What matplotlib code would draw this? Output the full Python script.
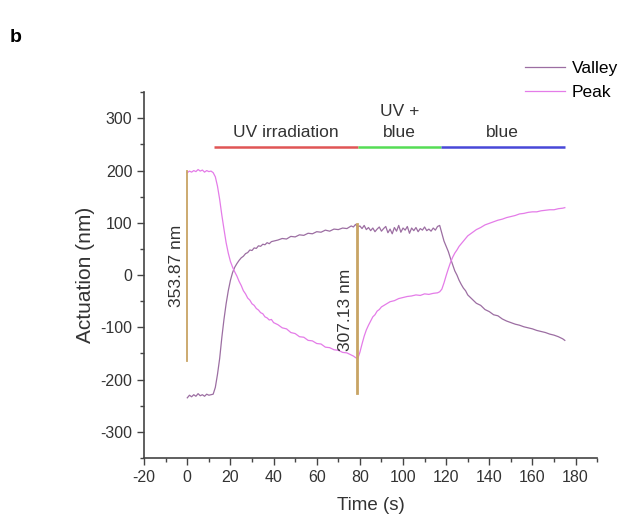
import matplotlib
matplotlib.use('Agg')
import matplotlib.pyplot as plt
from matplotlib.ticker import MultipleLocator

plt.rcParams['font.family'] = ['Liberation Sans', 'DejaVu Sans']
plt.rcParams['axes.unicode_minus'] = False

# Peak series
peak_t = [0, 1, 2, 3, 4, 5, 6, 7, 8, 9, 10, 11, 12, 13, 14, 15, 16, 17, 18, 19,
          20, 21, 22, 23, 24, 25, 26, 27, 28, 29, 30, 31, 32, 33, 34, 35, 36, 37, 38, 39,
          40, 42, 44, 46, 48, 50, 52, 54, 56, 58, 60, 62, 64, 66, 68, 70, 72, 74, 76, 77,
          78, 79, 80, 81, 82, 83, 84, 85, 86, 87, 88, 89, 90, 92, 94, 96, 98, 100, 102, 104,
          106, 108, 110, 112, 114, 116, 117, 118, 119, 120, 121, 122, 123, 124, 125, 126, 127, 128, 129, 130,
          132, 134, 136, 138, 140, 142, 144, 146, 148, 150, 152, 154, 156, 158, 160, 162, 164, 166, 168, 170,
          172, 174, 175]
peak_y = [196, 199, 197, 200, 198, 202, 199, 201, 197, 200, 198, 199, 196, 188, 170, 145, 115, 88, 62, 42,
          26, 15, 6, -2, -12, -20, -30, -36, -44, -48, -55, -58, -64, -67, -72, -74, -80, -82, -86, -85,
          -91, -95, -101, -103, -110, -112, -118, -119, -125, -126, -131, -132, -138, -139, -143, -144, -148, -149, -153, -155,
          -158, -160, -148, -132, -117, -105, -96, -88, -80, -76, -69, -66, -61, -56, -51, -49, -45, -43, -41, -40,
          -38, -39, -36, -37, -35, -34, -32, -27, -15, -1, 12, 24, 34, 42, 48, 55, 60, 65, 70, 75,
          81, 87, 91, 96, 99, 102, 105, 107, 110, 112, 114, 117, 118, 120, 121, 121, 123, 124, 125, 125,
          127, 128, 129]

# Valley series
valley_t = [0, 1, 2, 3, 4, 5, 6, 7, 8, 9, 10, 11, 12, 13, 14, 15, 16, 17, 18, 19,
            20, 21, 22, 23, 24, 25, 26, 27, 28, 29, 30, 31, 32, 33, 34, 35, 36, 37, 38, 39,
            40, 42, 44, 46, 48, 50, 52, 54, 56, 58, 60, 62, 64, 66, 68, 70, 72, 74, 76, 77,
            78, 79, 80, 81, 82, 83, 84, 85, 86, 87, 88, 89, 90, 91, 92, 93, 94, 95, 96, 97,
            98, 99, 100, 101, 102, 103, 104, 105, 106, 107, 108, 109, 110, 111, 112, 113, 114, 115, 116, 117,
            118, 119, 120, 121, 122, 123, 124, 125, 126, 127, 128, 129, 130, 132, 134, 136, 138, 140, 142, 144,
            146, 148, 150, 152, 154, 156, 158, 160, 162, 164, 166, 168, 170, 172, 174, 175]
valley_y = [-235, -230, -233, -229, -232, -227, -231, -229, -232, -228, -230, -229, -228, -215, -190, -160, -120, -85, -55, -30,
            -10, 5, 15, 22, 28, 33, 36, 41, 43, 48, 47, 52, 51, 56, 55, 59, 58, 62, 60, 64,
            65, 67, 70, 69, 74, 73, 77, 76, 80, 79, 83, 82, 86, 84, 88, 87, 90, 89, 94, 92,
            97, 92, 94, 89, 95, 87, 91, 85, 90, 83, 88, 92, 84, 89, 93, 81, 88, 79, 91, 84,
            95, 82, 90, 86, 93, 80, 90, 85, 91, 83, 89, 86, 92, 85, 88, 84, 90, 86, 93, 95,
            80, 65, 55, 45, 32, 20, 8, 0, -10, -18, -25, -30, -38, -46, -54, -58, -66, -70, -76, -78,
            -84, -88, -91, -94, -96, -99, -101, -103, -106, -108, -110, -113, -115, -118, -122, -125]

# light phases
phase_edges = [12.5, 79, 117.5, 175]
phase_colors = ['#e05555', '#55dd55', '#4848d8']
phase_labels = ['UV irradiation', 'UV +\nblue', 'blue']
phase_level = 245

# measured amplitude markers
marks_t = [0, 78.5]
marks_lo = [-165, -225]
marks_hi = [200, 97]
marks_text = ['353.87 nm', '307.13 nm']
marks_text_pos = [(-5, 17), (73.5, -67)]


def main():
    fig = plt.figure(figsize=(6.24, 5.18), dpi=100)
    ax = fig.add_axes([0.231, 0.116, 0.726, 0.706])

    ax.plot(valley_t, valley_y, color='#9c6ea2', lw=0.9, label='Valley')
    ax.plot(peak_t, peak_y, color='#e47ce8', lw=0.9, label='Peak')

    for i, c in enumerate(phase_colors):
        ax.plot([phase_edges[i], phase_edges[i + 1]], [phase_level, phase_level],
                color=c, lw=1.8, solid_capstyle='butt')
        mid = (phase_edges[i] + phase_edges[i + 1]) / 2
        ax.text(mid, phase_level + 14, phase_labels[i], ha='center', va='bottom',
                fontsize=12.5, color='#333333', linespacing=1.45)

    for i, x in enumerate(marks_t):
        ax.plot([x, x], [marks_lo[i], marks_hi[i]], color='#c8a464',
                lw=1.3 if i == 0 else 2.0)
        tx, ty = marks_text_pos[i]
        ax.text(tx, ty, marks_text[i], rotation=90, ha='center', va='center',
                fontsize=12.5, color='#333333')

    ax.set_xlim(-20, 190)
    ax.set_ylim(-350, 350)
    ax.xaxis.set_major_locator(MultipleLocator(20))
    ax.xaxis.set_minor_locator(MultipleLocator(10))
    ax.yaxis.set_minor_locator(MultipleLocator(50))
    ax.set_yticks([-300, -200, -100, 0, 100, 200, 300])
    for s in ['top', 'right']:
        ax.spines[s].set_visible(False)
    for s in ['left', 'bottom']:
        ax.spines[s].set_color('#444444')
        ax.spines[s].set_linewidth(1.2)
    ax.tick_params(which='major', length=5, width=1, color='#444444',
                   labelsize=11.5, labelcolor='#333333')
    ax.tick_params(which='minor', length=3, width=1, color='#444444')
    ax.set_xlabel('Time (s)', fontsize=13.5, color='#333333', labelpad=9)
    ax.set_ylabel('Actuation (nm)', fontsize=15, color='#333333', labelpad=4)

    fig.legend(loc='upper left', bbox_to_anchor=(0.841, 0.882), frameon=False,
               fontsize=12.5, handlelength=2.3, handletextpad=0.4,
               labelspacing=0.5, borderpad=0, borderaxespad=0)

    fig.text(0.016, 0.919, 'b', fontsize=14, fontweight='bold')

    fig.savefig('out.png', dpi=100)


if __name__ == "__main__":
    main()
